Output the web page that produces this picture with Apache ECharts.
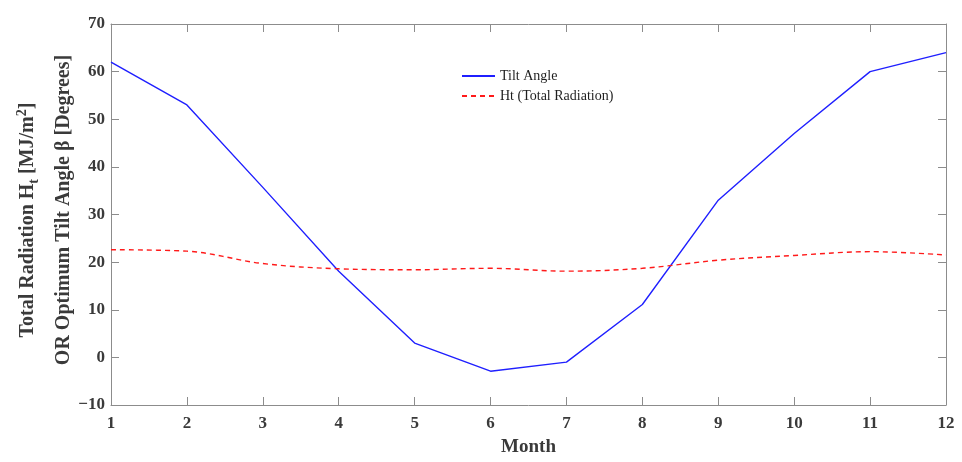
<!DOCTYPE html>
<html>
<head>
<meta charset="utf-8">
<script src="https://cdn.jsdelivr.net/npm/echarts@6/dist/echarts.min.js"></script>
<style>html,body{margin:0;padding:0;background:#fff}#c{width:962px;height:462px}</style>
</head>
<body>
<div id="c"></div>
<script>
var months = [1,2,3,4,5,6,7,8,9,10,11,12];
var tiltAngle = [62, 53, 35.7, 18.1, 3.0, -2.9, -1.0, 11.1, 33, 47, 60, 64];
var totalRadiation = [22.6, 22.3, 19.7, 18.6, 18.4, 18.7, 18.1, 18.7, 20.4, 21.4, 22.2, 21.5];
var yTicks = [-10, 0, 10, 20, 30, 40, 50, 60, 70];

var serif = '"Liberation Serif", "DejaVu Serif", serif';
var axisColor = '#8c8c8c';
var textColor = '#3a3a3a';

function pairs(xs, ys){ return xs.map(function(x,i){ return [x, ys[i]]; }); }

var chart = echarts.init(document.getElementById('c'));
var tickStyle = {show:true, inside:true, length:8, lineStyle:{color:axisColor, width:1}};
var lineAxis = {show:true, onZero:false, lineStyle:{color:axisColor, width:1}};
chart.setOption({
  animation:false,
  grid:{left:111, right:16, top:24, bottom:51},
  legend:{
    orient:'vertical', left:456, top:64, itemGap:6, itemWidth:33, itemHeight:12,
    textStyle:{fontFamily:serif, fontSize:14, color:'#1e1e1e'},
    itemStyle:{opacity:0},
    data:['Tilt Angle','Ht (Total Radiation)']
  },
  xAxis:[{
    type:'value', min:1, max:12, interval:1, position:'bottom',
    name:'Month', nameLocation:'middle', nameGap:33,
    nameTextStyle:{fontFamily:serif, fontSize:19, fontWeight:'bold', color:textColor},
    axisLine:lineAxis,
    axisTick:tickStyle,
    axisLabel:{fontFamily:serif, fontSize:17, fontWeight:'bold', color:textColor, margin:10},
    splitLine:{show:false}
  },{
    type:'value', min:1, max:12, interval:1, position:'top',
    axisLine:lineAxis,
    axisTick:tickStyle, axisLabel:{show:false}, splitLine:{show:false}
  }],
  yAxis:[{
    type:'value', min:yTicks[0], max:yTicks[yTicks.length-1], interval:10, position:'left',
    axisLine:lineAxis,
    axisTick:tickStyle,
    axisLabel:{fontFamily:serif, fontSize:17, fontWeight:'bold', color:textColor, margin:6,
      formatter:function(v){ return v < 0 ? '\u2212' + Math.abs(v) : String(v); }},
    splitLine:{show:false}
  },{
    type:'value', min:yTicks[0], max:yTicks[yTicks.length-1], interval:10, position:'right',
    axisLine:lineAxis,
    axisTick:tickStyle, axisLabel:{show:false}, splitLine:{show:false}
  }],
  series:[{
    name:'Tilt Angle', type:'line', symbol:'none', data:pairs(months, tiltAngle),
    lineStyle:{color:'#1f1fff', width:1.4}, itemStyle:{color:'#1f1fff'}
  },{
    name:'Ht (Total Radiation)', type:'line', symbol:'none', smooth:0.35, data:pairs(months, totalRadiation),
    lineStyle:{color:'#ff1a1a', width:1.4, type:[5,4]}, itemStyle:{color:'#ff1a1a'}
  }],
  graphic:[{
    type:'text', x:28, y:220, rotation:Math.PI/2,
    style:{
      text:'{a|Total Radiation H}{sub|t}{a| [MJ/m}{sup|2}{a|]}',
      align:'center', verticalAlign:'middle',
      rich:{
        a:{fontFamily:serif, fontSize:20, fontWeight:'bold', fill:textColor, lineHeight:26, verticalAlign:'middle'},
        sub:{fontFamily:serif, fontSize:14, fontWeight:'bold', fill:textColor, lineHeight:12, verticalAlign:'bottom'},
        sup:{fontFamily:serif, fontSize:14, fontWeight:'bold', fill:textColor, lineHeight:12, verticalAlign:'top'}
      }
    }
  },{
    type:'text', x:64, y:210, rotation:Math.PI/2,
    style:{
      text:'OR Optimum Tilt Angle \u03b2 [Degrees]',
      align:'center', verticalAlign:'middle',
      fontFamily:serif, fontSize:20, fontWeight:'bold', fill:textColor
    }
  }]
});
</script>
</body>
</html>
